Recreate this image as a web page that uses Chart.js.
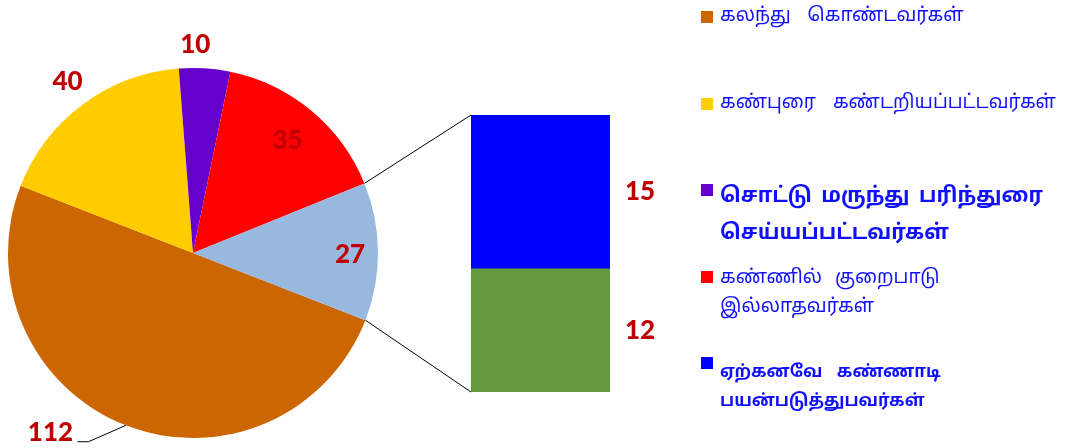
<!DOCTYPE html>
<html><head><meta charset="utf-8">
<script src="https://cdn.jsdelivr.net/npm/chart.js@4.4.1/dist/chart.umd.min.js"></script>
<style>
html,body{margin:0;padding:0;background:#fff;}
#wrap{position:relative;width:1069px;height:448px;overflow:hidden;background:#fff;}
canvas{position:absolute;left:0;top:0;}
.leg{position:absolute;left:701px;top:0;color:#1010FF;font-family:"Noto Sans Tamil","Noto Sans Tamil UI","Lohit Tamil","Latha","Noto Sans",sans-serif;white-space:pre;}
.sw{position:absolute;left:0;width:12px;height:12px;}
.tx{position:absolute;left:19px;}
</style></head>
<body><div id="wrap"><canvas id="pie" width="1069" height="448"></canvas><canvas id="bar" width="1069" height="448"></canvas><div id="legend"></div></div>
<script>
// ---- data ----
const pieLabels = ['கலந்து கொண்டவர்கள்', 'கண்புரை கண்டறியப்பட்டவர்கள்', 'சொட்டு மருந்து பரிந்துரை\nசெய்யப்பட்டவர்கள்', 'கண்ணில் குறைபாடு\nஇல்லாதவர்கள்', 'பிறர்'];
const pieValues = [112, 40, 10, 35, 27];
const pieColors = ['#CC6600', '#FFCC00', '#6600CC', '#FF0000', '#97B9E0'];
const barLabels = ['ஏற்கனவே கண்ணாடி\nபயன்படுத்துபவர்கள்', 'மற்றவர்கள்'];
const barValues = [15, 12];
const barColors = ['#0000FF', '#639A3F'];

// ---- styles ----
const labelColor = '#C00000';
const labelFont = '900 26px Lato, "Open Sans", sans-serif';
const pieLabelPlace = [
  {dAng: 17.2, r: 1.238, leader: true},
  {dAng: 0.3, r: 1.146},
  {dAng: -3.0, r: 1.124},
  {dAng: 0.2, r: 0.795},
  {dAng: 1.1, r: 0.849}
];
const legendStyle = [
  {sq: 11, tx: 2, size: 19, weight: 400, lh: 29, ws: 12},
  {sq: 98, tx: 89, size: 19, weight: 400, lh: 29, ws: 12},
  {sq: 184, tx: 179, size: 21, weight: 700, lh: 37, ws: 4},
  {sq: 271, tx: 264, size: 19, weight: 400, lh: 29, ws: 8},
  {sq: 357, tx: 358, size: 17, weight: 700, lh: 29, ws: 10}
];

const pieLabelPlugin = {
  id: 'pieLabels',
  afterDatasetsDraw(chart) {
    const ctx = chart.ctx;
    const meta = chart.getDatasetMeta(0);
    ctx.save();
    ctx.font = labelFont;
    ctx.fillStyle = labelColor;
    ctx.textAlign = 'center';
    ctx.textBaseline = 'middle';
    meta.data.forEach((arc, i) => {
      const p = arc.getProps(['x', 'y', 'startAngle', 'endAngle', 'outerRadius'], true);
      const mid = (p.startAngle + p.endAngle) / 2;
      const pl = pieLabelPlace[i];
      const a = mid + pl.dAng * Math.PI / 180;
      const lx = p.x + Math.cos(a) * p.outerRadius * pl.r;
      const ly = p.y + Math.sin(a) * p.outerRadius * pl.r;
      if (pl.leader) {
        ctx.save();
        ctx.strokeStyle = '#000';
        ctx.lineWidth = 1;
        ctx.beginPath();
        ctx.moveTo(p.x + Math.cos(mid) * p.outerRadius, p.y + Math.sin(mid) * p.outerRadius);
        ctx.lineTo(lx + 38, ly + 9.5);
        ctx.lineTo(lx + 27, ly + 9.5);
        ctx.stroke();
        ctx.restore();
      }
      ctx.fillText(String(pieValues[i]), lx, ly);
    });
    ctx.restore();
  }
};

const pieChart = new Chart(document.getElementById('pie'), {
  type: 'pie',
  data: {
    labels: pieLabels,
    datasets: [{data: pieValues, backgroundColor: pieColors, borderWidth: 0}]
  },
  options: {
    responsive: false,
    animation: false,
    rotation: 111.3,
    layout: {padding: {left: 8, right: 691, top: 68, bottom: 10}},
    plugins: {legend: {display: false}, tooltip: {enabled: false}}
  },
  plugins: [pieLabelPlugin]
});

const barPlugin = {
  id: 'barExtras',
  afterDatasetsDraw(chart) {
    const ctx = chart.ctx;
    const arc = pieChart.getDatasetMeta(0).data[pieValues.length - 1];
    const p = arc.getProps(['x', 'y', 'startAngle', 'endAngle', 'outerRadius'], true);
    const topBar = chart.getDatasetMeta(1).data[0];
    const botBar = chart.getDatasetMeta(0).data[0];
    const left = topBar.x - topBar.width / 2;
    const right = topBar.x + topBar.width / 2;
    ctx.save();
    ctx.strokeStyle = '#000';
    ctx.lineWidth = 1;
    ctx.beginPath();
    ctx.moveTo(p.x + Math.cos(p.startAngle) * p.outerRadius, p.y + Math.sin(p.startAngle) * p.outerRadius);
    ctx.lineTo(left, topBar.y);
    ctx.moveTo(p.x + Math.cos(p.endAngle) * p.outerRadius, p.y + Math.sin(p.endAngle) * p.outerRadius);
    ctx.lineTo(left, botBar.base);
    ctx.stroke();
    ctx.font = labelFont;
    ctx.fillStyle = labelColor;
    ctx.textAlign = 'center';
    ctx.textBaseline = 'middle';
    ctx.fillText(String(barValues[0]), right + 30, (topBar.y + topBar.base) / 2);
    ctx.fillText(String(barValues[1]), right + 30, (botBar.y + botBar.base) / 2);
    ctx.restore();
  }
};

const barChart = new Chart(document.getElementById('bar'), {
  type: 'bar',
  data: {
    labels: [''],
    datasets: [
      {label: barLabels[1], data: [barValues[1]], backgroundColor: barColors[1], borderWidth: 0, barPercentage: 1, categoryPercentage: 1},
      {label: barLabels[0], data: [barValues[0]], backgroundColor: barColors[0], borderWidth: 0, barPercentage: 1, categoryPercentage: 1}
    ]
  },
  options: {
    responsive: false,
    animation: false,
    layout: {padding: {left: 471, right: 459, top: 115, bottom: 56}},
    scales: {
      x: {display: false, stacked: true},
      y: {display: false, stacked: true, min: 0, max: barValues[0] + barValues[1]}
    },
    plugins: {legend: {display: false}, tooltip: {enabled: false}}
  },
  plugins: [barPlugin]
});

// ---- legend (HTML text) ----
const legendItems = [0, 1, 2, 3].map(i => ({text: pieLabels[i], color: pieColors[i]}))
  .concat([{text: barLabels[0], color: barColors[0]}]);
const legendEl = document.getElementById('legend');
legendItems.forEach((it, i) => {
  const st = legendStyle[i];
  const d = document.createElement('div');
  d.className = 'leg';
  const sw = document.createElement('div');
  sw.className = 'sw';
  sw.style.background = it.color;
  sw.style.top = st.sq + 'px';
  const tx = document.createElement('div');
  tx.className = 'tx';
  tx.style.fontSize = st.size + 'px';
  tx.style.fontWeight = st.weight;
  tx.style.lineHeight = st.lh + 'px';
  tx.style.wordSpacing = st.ws + 'px';
  tx.style.top = st.tx + 'px';
  tx.textContent = it.text;
  d.appendChild(sw);
  d.appendChild(tx);
  legendEl.appendChild(d);
});
</script>
</body></html>
